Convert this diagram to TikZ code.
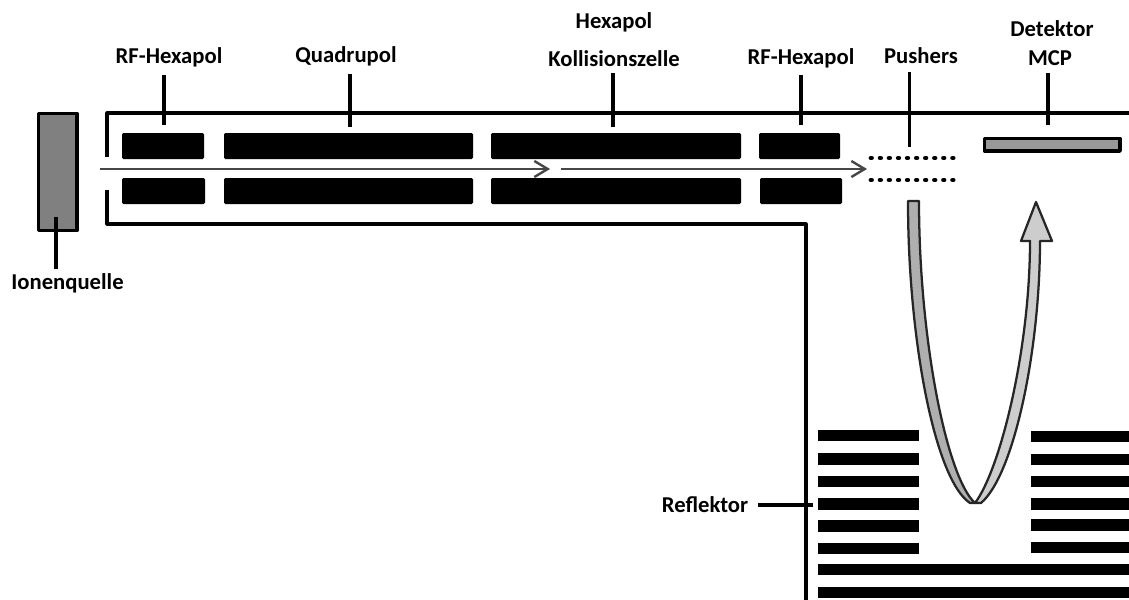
\documentclass[tikz,border=0pt]{standalone}
\usepackage{fontspec}
\setmainfont{Carlito}
\usetikzlibrary{arrows.meta,positioning,calc}
\definecolor{sourceGray}{RGB}{128,128,128}
\definecolor{ribbonDark}{RGB}{175,175,175}
\definecolor{ribbonLight}{RGB}{205,205,205}
\definecolor{beamGray}{RGB}{70,70,70}

\begin{document}
\begin{tikzpicture}[
        x=0.75pt, y=-0.75pt,
        block/.style={fill=black, rounded corners=1pt},
        plate/.style={fill=black},
        wall/.style={draw=black, line width=2.3pt, line join=round},
        lbl/.style={font=\bfseries\fontsize{17}{20}\selectfont, text=black, inner sep=0pt},
        leader/.style={draw=black, line width=2.3pt},
        beam/.style={draw=beamGray, line width=1.8pt, -{Straight Barb[length=10pt,width=12pt,line width=1.8pt]}},
        grid/.style={draw=black, line width=3.6pt, line cap=round, dash pattern=on 0.4pt off 6.4pt},
        ribbon/.style={draw=black!85, line width=1.7pt, line join=round},
      ]
        \useasboundingbox (0,0) rectangle (1129,600);

        % ion source
        \filldraw[fill=sourceGray, draw=black, line width=2.8pt, line join=round] (38.5,113.5) rectangle (77,230.5);

        % housing
        \draw[wall] (107,157) -- (107,113) -- (1129,113);
        \draw[wall] (107,190) -- (107,224) -- (806,224) -- (806,600);

        % upper rods
        \fill[block] (122,133) rectangle (204,159);
        \fill[block] (224,133) rectangle (473,159);
        \fill[block] (491,133) rectangle (741,159);
        \fill[block] (759,133) rectangle (840,159);

        % lower rods
        \fill[block] (122,178) rectangle (205,204);
        \fill[block] (224,178) rectangle (473,204);
        \fill[block] (491,178) rectangle (741,204);
        \fill[block] (760,178) rectangle (842,204);

        % ion beam
        \coordinate (beamA) at (100,169);
        \coordinate (beamB) at (550,169);
        \coordinate (beamC) at (561,169);
        \coordinate (beamD) at (867,169);
        \draw[beam] (beamA) -- (beamB);
        \draw[beam] (beamC) -- (beamD);

        % pusher grids
        \draw[grid] (871,158) -- (954,158);
        \draw[grid] (871,180) -- (954,180);

        % detector
        \filldraw[fill=sourceGray!80, draw=black, line width=2.6pt, line join=round] (984.5,138.5) rectangle (1120,151);

        % flight path
        \filldraw[ribbon, fill=ribbonLight]
          (975,503) .. controls (1000,470) and (1030,350) .. (1030,241)
          -- (1021,241) -- (1036,202) -- (1052,241) -- (1040,241)
          .. controls (1040,350) and (1014,475) .. (981,503) -- cycle;
        \filldraw[ribbon, fill=ribbonDark]
          (908,201) .. controls (908,340) and (935,480) .. (970,503)
          -- (975,503) .. controls (947,478) and (919,340) .. (919,201) -- cycle;

        % reflector, left stack
        \fill[plate] (818,430) rectangle (919,441);
        \fill[plate] (818,453) rectangle (919,465);
        \fill[plate] (818,476) rectangle (919,487);
        \fill[plate] (818,498) rectangle (919,510);
        \fill[plate] (818,520) rectangle (919,532);
        \fill[plate] (818,543) rectangle (919,554);

        % reflector, right stack
        \fill[plate] (1031,431) rectangle (1129,442);
        \fill[plate] (1031,454) rectangle (1129,465);
        \fill[plate] (1031,476) rectangle (1129,487);
        \fill[plate] (1031,498) rectangle (1129,510);
        \fill[plate] (1031,519) rectangle (1129,531);
        \fill[plate] (1031,542) rectangle (1129,553);

        % reflector, back plates
        \fill[plate] (818,564) rectangle (1129,575);
        \fill[plate] (818,587) rectangle (1129,598);

        % labels
        \node[lbl] (rfHexaA) at (169,57) {RF-Hexapol};
        \node[lbl] (quadrupol) at (346,56) {Quadrupol};
        \node[lbl] (hexapol) at (614,22) {Hexapol};
        \node[lbl] (kollision) at (614,59) {Kollisionszelle};
        \node[lbl] (rfHexaB) at (801,58) {RF-Hexapol};
        \node[lbl] (pushers) at (921,56) {Pushers};
        \node[lbl] (detektor) at (1052,29) {Detektor};
        \node[lbl] (mcp) at (1050,58) {MCP};
        \node[lbl] (ionen) at (67.5,283) {Ionenquelle};
        \node[lbl] (reflektor) at (705,505) {Reflektor};

        % leader lines
        \coordinate (rfHexaAEnd) at (164,125);
        \coordinate (quadrupolEnd) at (350,127);
        \coordinate (kollisionEnd) at (613,127);
        \coordinate (rfHexaBEnd) at (801,125);
        \coordinate (pushersEnd) at (909.5,147);
        \coordinate (mcpEnd) at (1048,125);
        \coordinate (ionenEnd) at (56,217);
        \coordinate (reflektorEnd) at (813,505);
        \draw[leader] (rfHexaAEnd) -- ($(rfHexaAEnd |- rfHexaA.south)+(0,8)$);
        \draw[leader] (quadrupolEnd) -- ($(quadrupolEnd |- quadrupol.south)+(0,8)$);
        \draw[leader] (kollisionEnd) -- ($(kollisionEnd |- kollision.south)+(0,6)$);
        \draw[leader] (rfHexaBEnd) -- ($(rfHexaBEnd |- rfHexaB.south)+(0,7)$);
        \draw[leader] (pushersEnd) -- ($(pushersEnd |- pushers.south)+(0,8)$);
        \draw[leader] (mcpEnd) -- ($(mcpEnd |- mcp.south)+(0,7)$);
        \draw[leader] (ionenEnd) -- ($(ionenEnd |- ionen.north)+(0,-4)$);
        \draw[leader] (reflektorEnd) -- ($(reflektor.east)+(10,0)$);
      \end{tikzpicture}
\end{document}
